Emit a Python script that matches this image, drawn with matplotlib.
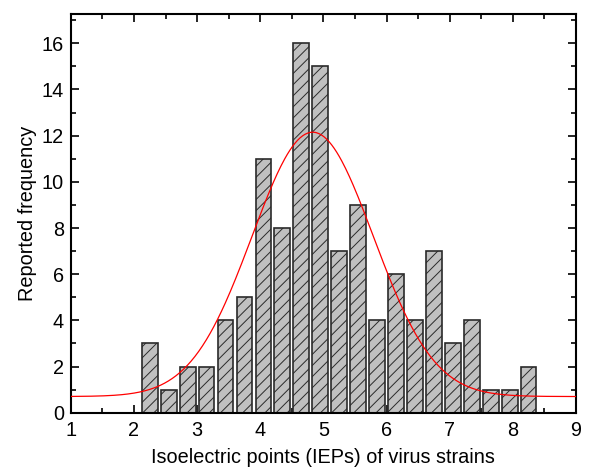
import numpy as np
import matplotlib
matplotlib.use("Agg")
import matplotlib.pyplot as plt
from matplotlib.ticker import MultipleLocator

plt.rcParams['font.family'] = ['Liberation Sans', 'DejaVu Sans']
plt.rcParams['hatch.linewidth'] = 0.7
plt.rcParams['hatch.color'] = '#1a1a1a'

# Bin centres (IEP) and reported frequencies
bin_centers = [2.25, 2.55, 2.85, 3.15, 3.45, 3.75, 4.05, 4.35, 4.65, 4.95, 5.25,
               5.55, 5.85, 6.15, 6.45, 6.75, 7.05, 7.35, 7.65, 7.95, 8.25]
frequencies = [3, 1, 2, 2, 4, 5, 11, 8, 16, 15, 7, 9, 4, 6, 4, 7, 3, 4, 1, 1, 2]

# Gaussian fit parameters (baseline, amplitude, centre, sigma)
fit_y0 = 0.7
fit_amp = 11.45
fit_xc = 4.83
fit_sigma = 0.96

fig = plt.figure(figsize=(6.16, 4.67), dpi=100)
ax = fig.add_axes([0.115, 0.1163, 0.820, 0.8537])

ax.bar(bin_centers, frequencies, width=0.25, facecolor='#c0c0c0',
       edgecolor='#2a2a2a', linewidth=1.2, hatch='///', zorder=2)

xfit = np.linspace(1, 9, 400)
yfit = fit_y0 + fit_amp * np.exp(-(xfit - fit_xc) ** 2 / (2 * fit_sigma ** 2))
ax.plot(xfit, yfit, color='red', linewidth=0.9, zorder=3)

ax.set_xlim(1, 9)
ax.set_ylim(0, 17.27)
ax.xaxis.set_major_locator(MultipleLocator(1))
ax.xaxis.set_minor_locator(MultipleLocator(0.5))
ax.yaxis.set_major_locator(MultipleLocator(2))
ax.yaxis.set_minor_locator(MultipleLocator(1))
ax.tick_params(which='both', direction='in', top=True, right=True,
               labelsize=14.3, width=1.2)
ax.tick_params(which='major', length=6)
ax.tick_params(which='minor', length=3.5)
ax.tick_params(axis='x', which='major', pad=6)
ax.tick_params(axis='y', which='major', pad=5)
for s in ax.spines.values():
    s.set_linewidth(1.5)

ax.set_xlabel('Isoelectric points (IEPs) of virus strains', fontsize=14.3, labelpad=6)
ax.set_ylabel('Reported frequency', fontsize=14.3, labelpad=3)

fig.savefig('out.png', dpi=100)
